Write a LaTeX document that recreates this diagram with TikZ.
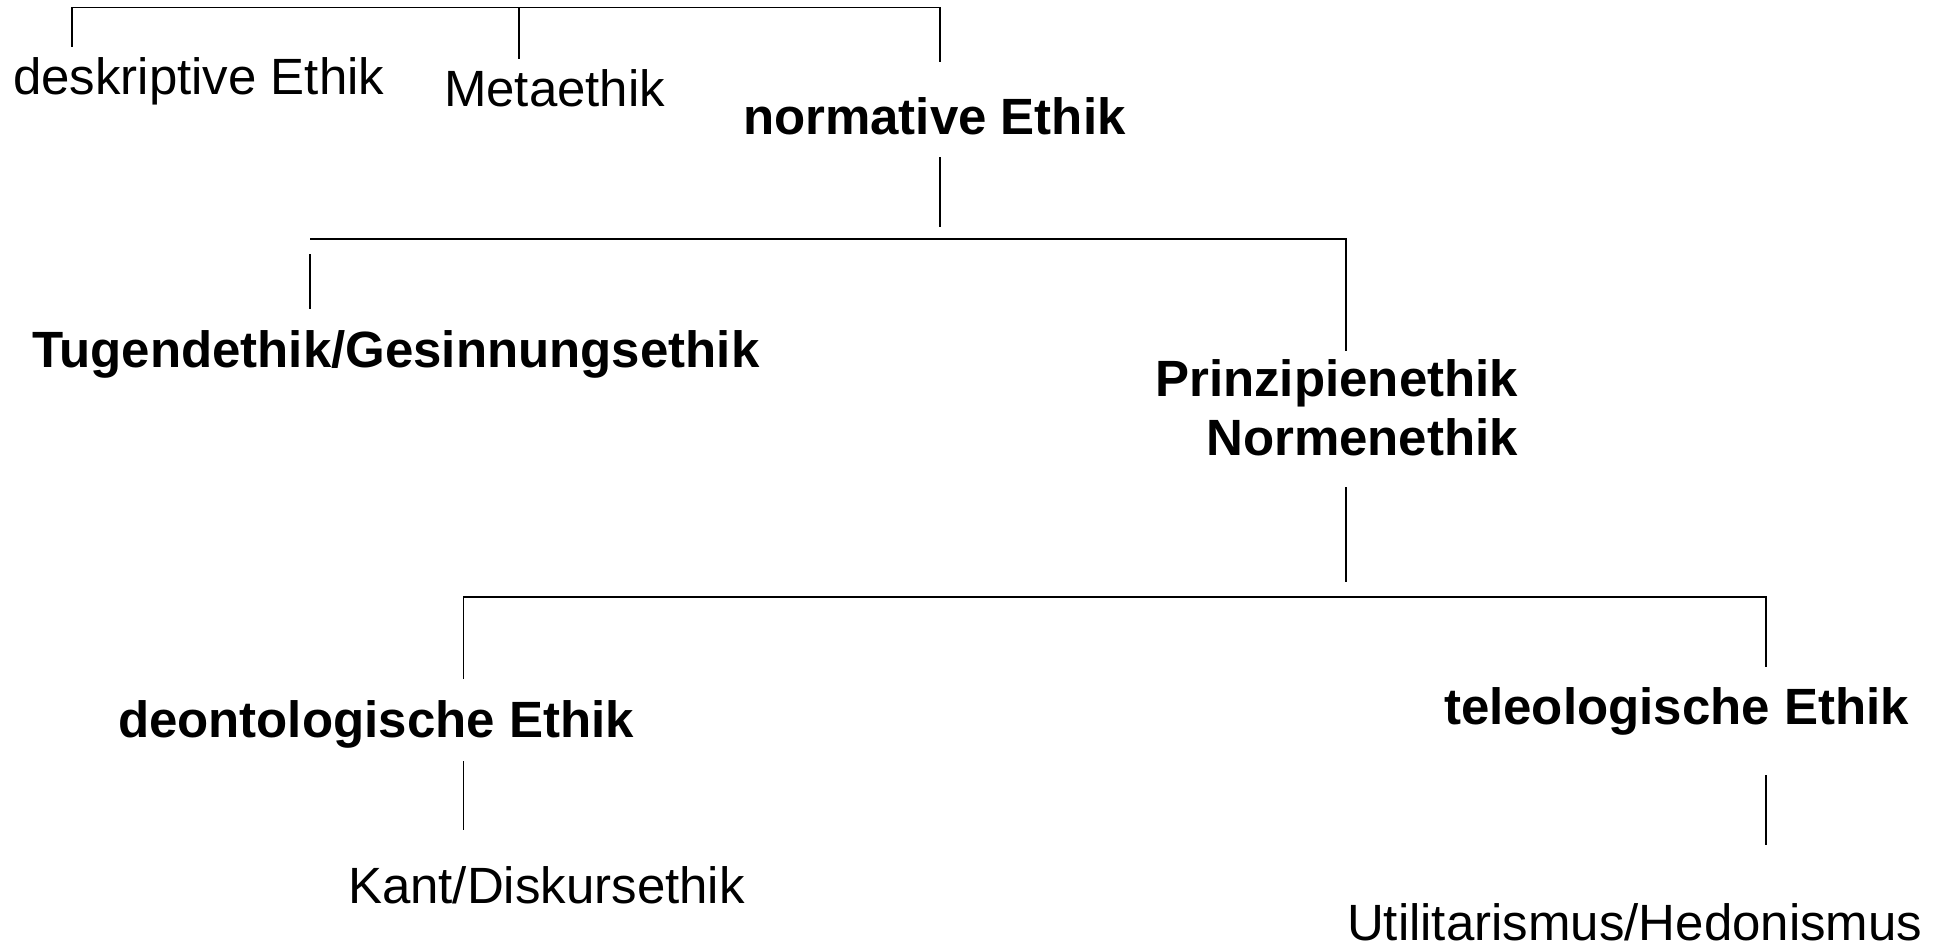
\documentclass[tikz,border=0pt]{standalone}
\usepackage{fontspec}
\setmainfont{Liberation Sans}
\begin{document}
\begin{tikzpicture}[x=1pt,y=-1pt,
  lbl/.style={inner sep=0pt,outer sep=0pt,anchor=base west,font=\fontsize{51}{59}\selectfont},
  blbl/.style={lbl,font=\fontsize{51}{59}\selectfont\bfseries},
  conn/.style={line width=1.7pt,line cap=butt}]
\useasboundingbox (0,0) rectangle (1943,947);
% text nodes
\node[lbl]  (desk) at (13,95)   {deskriptive Ethik};
\node[lbl]  (meta) at (444,107) {Metaethik};
\node[blbl] (norm) at (743,135) {normative Ethik};
\node[blbl] (tug)  at (32,367)  {Tugendethik/Gesinnungsethik};
\node[blbl,anchor=north east,align=right] (prin) at (1518,360) {Prinzipienethik\\Normenethik};
\node[blbl] (deon) at (118,737) {deontologische Ethik};
\node[blbl] (tele) at (1444,724) {teleologische Ethik};
\node[lbl]  (kant) at (348,903) {Kant/Diskursethik};
\node[lbl]  (util) at (1347,940) {Utilitarismus/Hedonismus};
% connector points
\coordinate (t1) at (72,7.5);   \coordinate (t1b) at (72,47);
\coordinate (t2) at (519,7.5);  \coordinate (t2b) at (519,59.5);
\coordinate (t3) at (940,7.5);  \coordinate (t3b) at (940,62);
\coordinate (n1) at (940,157);  \coordinate (n2) at (940,227);
\coordinate (b2L) at (310,239); \coordinate (b2R) at (1346,239);
\coordinate (tg1) at (310,254); \coordinate (tg2) at (310,309);
\coordinate (pr1) at (1346,351);
\coordinate (p1) at (1346,487); \coordinate (p2) at (1346,582);
\coordinate (b3L) at (463.5,597); \coordinate (b3R) at (1766,597);
\coordinate (d1) at (463.5,679); \coordinate (te1) at (1766,667);
\coordinate (d2) at (463.5,761); \coordinate (d3) at (463.5,830);
\coordinate (e2) at (1766,775); \coordinate (e3) at (1766,845);
% connectors
\draw[conn] (t1b) -- (t1) -- (t3) -- (t3b);
\draw[conn] (t2) -- (t2b);
\draw[conn] (n1) -- (n2);
\draw[conn] (b2L) -- (b2R) -- (pr1);
\draw[conn] (tg1) -- (tg2);
\draw[conn] (p1) -- (p2);
\draw[conn] (d1) -- (b3L) -- (b3R) -- (te1);
\draw[conn] (d2) -- (d3);
\draw[conn] (e2) -- (e3);
\end{tikzpicture}
\end{document}
